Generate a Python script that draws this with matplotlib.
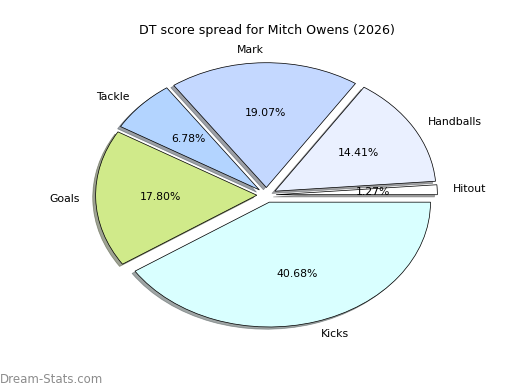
import matplotlib
matplotlib.use('Agg')
import matplotlib.pyplot as plt

# DT points per stat category
labels = ['Hitout', 'Handballs', 'Mark', 'Tackle', 'Goals', 'Kicks']
values = [3, 34, 45, 16, 42, 96]
colors = ['#ffffff', '#eaf0ff', '#c4d8ff', '#b3d4ff', '#d0ea8a', '#d9ffff']
explode = [0.06] * len(values)

fig = plt.figure(figsize=(8, 6), dpi=65)
ax = fig.add_axes([0.125, 0.1, 0.775, 0.8])

wedges, texts, autotexts = ax.pie(values, labels=labels, colors=colors, explode=explode,
                                  autopct='%1.2f%%', shadow=True, startangle=0,
                                  wedgeprops={'edgecolor': 'black', 'linewidth': 0.8},
                                  textprops={'fontsize': 12})
ax.set_aspect('auto')
ax.set_xlim(-1.25, 1.25)
ax.set_ylim(-1.25, 1.25)

ax.set_title('DT score spread for Mitch Owens (2026)', fontsize=14)

fig.text(0.0, 0.01, 'Dream-Stats.com', fontsize=13, color='#8c8c8c',
         ha='left', va='bottom')

fig.savefig('out.png', dpi=65)
